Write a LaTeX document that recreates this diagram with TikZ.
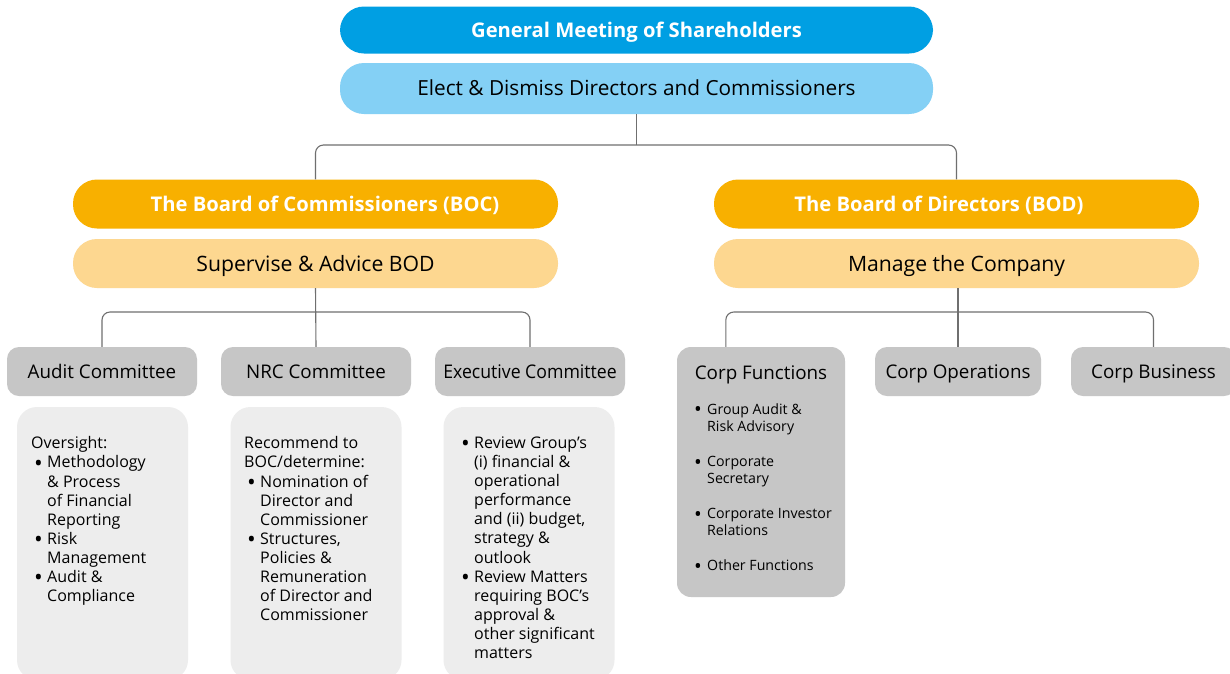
\documentclass[tikz,border=0pt]{standalone}
\usepackage{fontspec}
\usepackage{graphicx}
\setmainfont{Open Sans}
\usetikzlibrary{calc}
\definecolor{gmsblue}{HTML}{009FE3}
\definecolor{electblue}{HTML}{84D0F5}
\definecolor{bocorange}{HTML}{F8B000}
\definecolor{boclight}{HTML}{FDD790}
\definecolor{comgray}{HTML}{C6C6C6}
\definecolor{detgray}{HTML}{EDEDED}
\definecolor{linegray}{HTML}{6F6F6F}
\newcommand\bitem{\makebox[16pt][l]{\hspace{3pt}\raisebox{-0.2em}{\scalebox{1.45}{•}}}}
\newcommand\bcont{\hspace*{16pt}}
\begin{document}
\begin{tikzpicture}[x=1pt,y=-1pt,
  topbox/.style={minimum width=593pt, inner sep=0pt, rounded corners=24pt},
  midbox/.style={minimum width=485pt, minimum height=49pt, inner sep=0pt, rounded corners=24pt},
  boldtxt/.style={text=white, font=\bfseries\fontsize{20.2}{24}\selectfont, text height=14.4pt, text depth=0pt},
  regtxt/.style={font=\fontsize{21.2}{24}\selectfont, text height=15.1pt, text depth=0pt},
  combox/.style={fill=comgray, minimum height=49pt, inner sep=0pt, rounded corners=12pt, font=\fontsize{18.8}{22}\selectfont, text height=13.4pt, text depth=0pt},
  detbox/.style={fill=detgray, minimum width=171pt, minimum height=273pt, inner sep=0pt, rounded corners=20pt},
  dettext/.style={anchor=north west, inner sep=0pt, align=left, font=\fontsize{16}{19.1}\selectfont},
  conn/.style={draw=linegray, line width=1.1pt, rounded corners=8pt}]
\clip (0,0) rectangle (1230,673);
\fill[white] (0,0) rectangle (1230,673);
% top
\node[topbox, fill=gmsblue, minimum height=47pt, boldtxt] (gms) at (636.5,30) {General Meeting of Shareholders};
\node[topbox, fill=electblue, minimum height=51pt, regtxt, font=\fontsize{20.8}{24}\selectfont, text height=14.9pt] (elect) at (636.5,88.5) {Elect \& Dismiss Directors and Commissioners};
% boards
\node[midbox, fill=bocorange] (boc) at (315.5,204) {};
\node[boldtxt, inner sep=0pt] (boct) at (325,204) {The Board of Commissioners (BOC)};
\node[midbox, fill=boclight, regtxt] (sup) at (315.5,263.5) {Supervise \& Advice BOD};
\node[midbox, fill=bocorange] (bod) at (956.5,204) {};
\node[boldtxt, inner sep=0pt] (bodt) at (939,204) {The Board of Directors (BOD)};
\node[midbox, fill=boclight, regtxt] (man) at (956.5,263.5) {Manage the Company};
% committees
\node[combox, minimum width=190pt] (audit) at (102,371.5) {Audit Committee};
\node[combox, minimum width=190pt] (nrc) at (316,371.5) {NRC Committee};
\node[combox, minimum width=190pt] (exec) at (530,371.5) {\scalebox{0.94}[1]{Executive Committee}};
\node[combox, minimum width=168pt, minimum height=250pt, rounded corners=14pt] (corpf) at (761,472) {};
\node[inner sep=0pt, font=\fontsize{18.8}{22}\selectfont, text height=13.4pt, text depth=0pt] (corpft) at (761,372.5) {Corp Functions};
\node[combox, minimum width=166pt] (corpo) at (958,371.5) {Corp Operations};
\node[combox, minimum width=165pt] (corpb) at (1153.5,371.5) {Corp Business};
% detail boxes
\node[detbox] (auditd) at (102.5,543.5) {};
\node[detbox] (nrcd) at (316,543.5) {};
\node[detbox] (execd) at (529,543.5) {};
\node[dettext] (auditt) at (31,436.5) {Oversight:\\
\bitem Methodology\\
\bcont\& Process\\
\bcont of Financial\\
\bcont Reporting\\
\bitem Risk\\
\bcont Management\\
\bitem Audit \&\\
\bcont Compliance};
\node[dettext] (nrct) at (244,436.5) {Recommend to\\
BOC/determine:\\
\bitem Nomination of\\
\bcont Director and\\
\bcont Commissioner\\
\bitem Structures,\\
\bcont Policies \&\\
\bcont Remuneration\\
\bcont of Director and\\
\bcont Commissioner};
\node[dettext] (exect) at (458,436.5) {\bitem Review Group’s\\
\bcont (i) financial \&\\
\bcont operational\\
\bcont performance\\
\bcont and (ii) budget,\\
\bcont strategy \&\\
\bcont outlook\\
\bitem Review Matters\\
\bcont requiring BOC’s\\
\bcont approval \&\\
\bcont other significant\\
\bcont matters};
\node[dettext, font=\fontsize{14.2}{17}\selectfont] (corpfl) at (691,403) {\bitem Group Audit \&\\
\bcont Risk Advisory\\[18.3pt]
\bitem Corporate\\
\bcont Secretary\\[18.3pt]
\bitem Corporate Investor\\
\bcont Relations\\[18.3pt]
\bitem Other Functions};
% connectors
\coordinate (j1) at (636.5,145);
\coordinate (j2) at (315.5,312);
\coordinate (j3) at (957.5,312);
\coordinate (cftop) at ([xshift=49pt]corpf.north west);
\draw[conn] (elect.south) -- (j1);
\draw[conn] (boc.north) |- (j1) -| (bod.north);
\draw[conn] (sup.south) -- (nrc.north);
\draw[conn] (audit.north) |- (j2) -| (exec.north);
\draw[conn] (man.south -| corpo.north) -- (corpo.north);
\draw[conn] (cftop) |- (j3) -| (corpb.north);
\end{tikzpicture}
\end{document}
